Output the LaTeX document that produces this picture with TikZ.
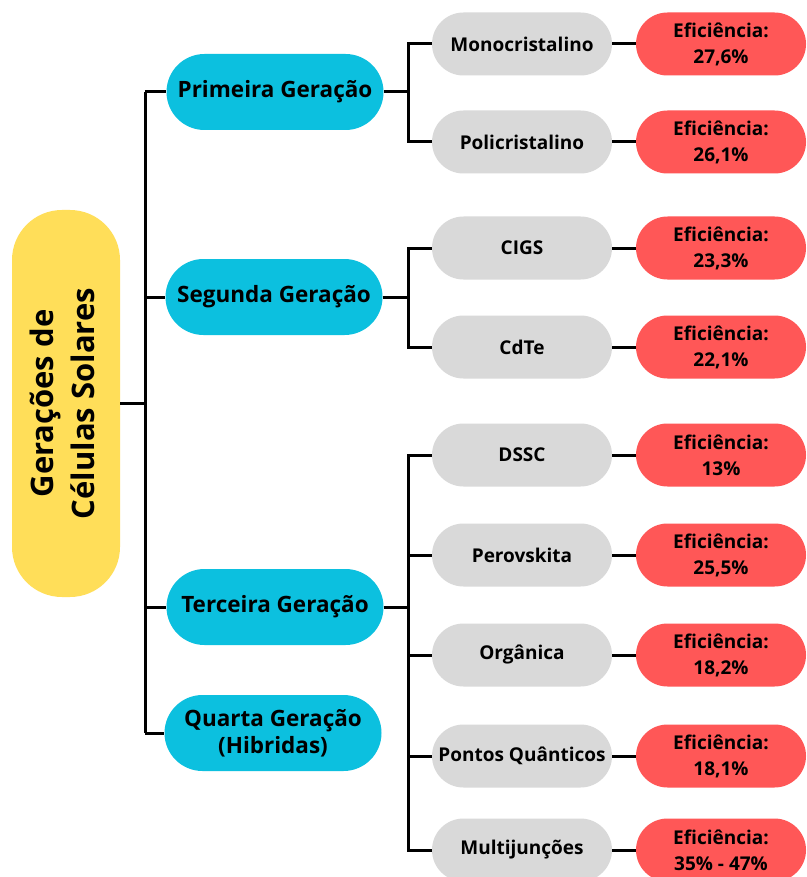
\documentclass[tikz,border=0pt]{standalone}
\usepackage{fontspec}
\setmainfont{Open Sans}
\usetikzlibrary{shapes.misc}
\definecolor{amarelo}{HTML}{FFDE59}
\definecolor{azul}{HTML}{0CC0DF}
\definecolor{cinza}{HTML}{D9D9D9}
\definecolor{vermelho}{HTML}{FF5757}
\tikzset{
  liga/.style={draw=black,line width=3pt},
  raizbox/.style={fill=amarelo,rounded corners=50pt,minimum width=108pt,minimum height=387pt,inner sep=0pt,font=\fontsize{31}{41}\selectfont\bfseries},
  gerbox/.style={rounded rectangle,fill=azul,minimum width=217pt,minimum height=76pt,inner sep=0pt,align=center,font=\fontsize{22.5}{27}\selectfont\bfseries},
  tipobox/.style={rounded rectangle,fill=cinza,minimum width=180pt,minimum height=63pt,inner sep=0pt,align=center,font=\fontsize{19}{24}\selectfont\bfseries},
  efbox/.style={rounded rectangle,fill=vermelho,minimum width=170pt,minimum height=63pt,inner sep=0pt,align=center,font=\fontsize{19}{26}\selectfont\bfseries}
}
\begin{document}
\begin{tikzpicture}[x=1pt,y=-1pt]
\useasboundingbox (0,0) rectangle (806,877);
\fill[white] (0,0) rectangle (806,877);
\node[raizbox] (raiz) at (66,403.5) {\rotatebox{90}{\begin{tabular}{@{}c@{}}Gerações de\\Células Solares\end{tabular}}};
\node[gerbox] (g1) at (275,92) {Primeira Geração};
\node[gerbox] (g2) at (274,297) {Segunda Geração};
\node[gerbox] (g3) at (275,607) {Terceira Geração};
\node[gerbox] (g4) at (273,733) {Quarta Geração\\(Hibridas)};
\node[tipobox] (mono) at (522,44) {Monocristalino};
\node[tipobox] (poli) at (522,142) {Policristalino};
\node[tipobox] (cigs) at (522,248) {CIGS};
\node[tipobox] (cdte) at (522,347) {CdTe};
\node[tipobox] (dssc) at (522,455) {DSSC};
\node[tipobox] (perov) at (522,555) {Perovskita};
\node[tipobox] (organ) at (522,655) {Orgânica};
\node[tipobox] (pontos) at (522,756) {Pontos Quânticos};
\node[tipobox] (multi) at (522,850) {Multijunções};
\node[efbox] (ef-mono) at (721,44) {Eficiência:\\27,6\%};
\node[efbox] (ef-poli) at (721,142) {Eficiência:\\26,1\%};
\node[efbox] (ef-cigs) at (721,248) {Eficiência:\\23,3\%};
\node[efbox] (ef-cdte) at (721,347) {Eficiência:\\22,1\%};
\node[efbox] (ef-dssc) at (721,455) {Eficiência:\\13\%};
\node[efbox] (ef-perov) at (721,555) {Eficiência:\\25,5\%};
\node[efbox] (ef-organ) at (721,655) {Eficiência:\\18,2\%};
\node[efbox] (ef-pontos) at (721,756) {Eficiência:\\18,1\%};
\node[efbox] (ef-multi) at (721,850) {Eficiência:\\35\% - 47\%};
\coordinate (tronco) at (145,403.5);
\coordinate (r1) at (408,92);
\coordinate (r2) at (408,297);
\coordinate (r3) at (408,607);
\draw[liga] (raiz.east) -- (tronco);
\draw[liga] (tronco |- g1) -- (tronco |- g4);
\draw[liga] (tronco |- g1) -- (g1.west);
\draw[liga] (tronco |- g2) -- (g2.west);
\draw[liga] (tronco |- g3) -- (g3.west);
\draw[liga] (tronco |- g4) -- (g4.west);
\draw[liga] (g1.east) -- (r1);
\draw[liga] (mono.west) -| (r1) |- (poli.west);
\draw[liga] (g2.east) -- (r2);
\draw[liga] (cigs.west) -| (r2) |- (cdte.west);
\draw[liga] (g3.east) -- (r3);
\draw[liga] (dssc.west) -| (r3) |- (multi.west);
\draw[liga] (r3 |- perov) -- (perov.west);
\draw[liga] (r3 |- organ) -- (organ.west);
\draw[liga] (r3 |- pontos) -- (pontos.west);
\draw[liga] (mono.east) -- (ef-mono.west);
\draw[liga] (poli.east) -- (ef-poli.west);
\draw[liga] (cigs.east) -- (ef-cigs.west);
\draw[liga] (cdte.east) -- (ef-cdte.west);
\draw[liga] (dssc.east) -- (ef-dssc.west);
\draw[liga] (perov.east) -- (ef-perov.west);
\draw[liga] (organ.east) -- (ef-organ.west);
\draw[liga] (pontos.east) -- (ef-pontos.west);
\draw[liga] (multi.east) -- (ef-multi.west);
\end{tikzpicture}
\end{document}
